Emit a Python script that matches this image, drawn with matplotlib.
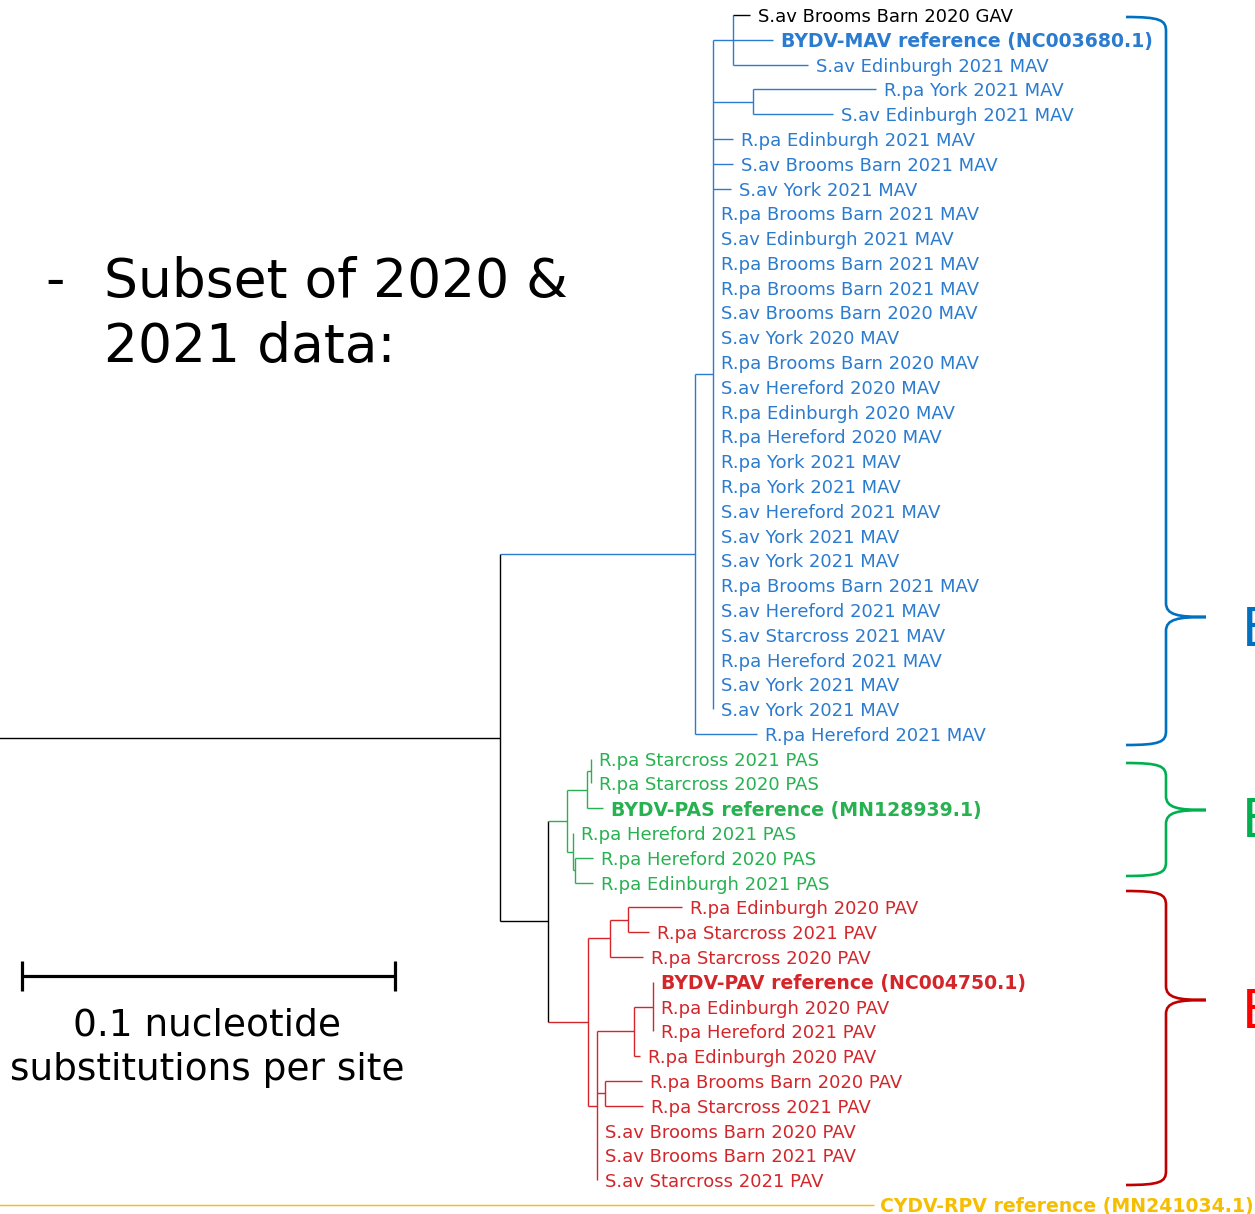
import matplotlib
matplotlib.use("Agg")
import matplotlib.pyplot as plt
from matplotlib.path import Path
from matplotlib.patches import PathPatch
from matplotlib.transforms import blended_transform_factory

# tip labels, top to bottom
leaf_names = [
    "S.av Brooms Barn 2020 GAV",
    "BYDV-MAV reference (NC003680.1)",
    "S.av Edinburgh 2021 MAV",
    "R.pa York 2021 MAV",
    "S.av Edinburgh 2021 MAV",
    "R.pa Edinburgh 2021 MAV",
    "S.av Brooms Barn 2021 MAV",
    "S.av York 2021 MAV",
    "R.pa Brooms Barn 2021 MAV",
    "S.av Edinburgh 2021 MAV",
    "R.pa Brooms Barn 2021 MAV",
    "R.pa Brooms Barn 2021 MAV",
    "S.av Brooms Barn 2020 MAV",
    "S.av York 2020 MAV",
    "R.pa Brooms Barn 2020 MAV",
    "S.av Hereford 2020 MAV",
    "R.pa Edinburgh 2020 MAV",
    "R.pa Hereford 2020 MAV",
    "R.pa York 2021 MAV",
    "R.pa York 2021 MAV",
    "S.av Hereford 2021 MAV",
    "S.av York 2021 MAV",
    "S.av York 2021 MAV",
    "R.pa Brooms Barn 2021 MAV",
    "S.av Hereford 2021 MAV",
    "S.av Starcross 2021 MAV",
    "R.pa Hereford 2021 MAV",
    "S.av York 2021 MAV",
    "S.av York 2021 MAV",
    "R.pa Hereford 2021 MAV",
    "R.pa Starcross 2021 PAS",
    "R.pa Starcross 2020 PAS",
    "BYDV-PAS reference (MN128939.1)",
    "R.pa Hereford 2021 PAS",
    "R.pa Hereford 2020 PAS",
    "R.pa Edinburgh 2021 PAS",
    "R.pa Edinburgh 2020 PAV",
    "R.pa Starcross 2021 PAV",
    "R.pa Starcross 2020 PAV",
    "BYDV-PAV reference (NC004750.1)",
    "R.pa Edinburgh 2020 PAV",
    "R.pa Hereford 2021 PAV",
    "R.pa Edinburgh 2020 PAV",
    "R.pa Brooms Barn 2020 PAV",
    "R.pa Starcross 2021 PAV",
    "S.av Brooms Barn 2020 PAV",
    "S.av Brooms Barn 2021 PAV",
    "S.av Starcross 2021 PAV",
    "CYDV-RPV reference (MN241034.1)",
]
leaf_groups = ["MAV"] * 30 + ["PAS"] * 6 + ["PAV"] * 12 + ["RPV"]
black_tips = [0]  # the GAV sample

# (branch length, index) for a tip, (branch length, [children]) for a node
tree = (0.0, [
    (0.1350, [
        (0.0523, [
            (0.0048, [
                (0.0054, [(0.0046, 0), (0.0107, 1), (0.0201, 2)]),
                (0.0107, [(0.0330, 3), (0.0214, 4)]),
                (0.0054, 5), (0.0054, 6), (0.0048, 7),
                (0.0, 8), (0.0, 9), (0.0, 10), (0.0, 11), (0.0, 12),
                (0.0, 13), (0.0, 14), (0.0, 15), (0.0, 16), (0.0, 17),
                (0.0, 18), (0.0, 19), (0.0, 20), (0.0, 21), (0.0, 22),
                (0.0, 23), (0.0, 24), (0.0, 25), (0.0, 26), (0.0, 27),
                (0.0, 28),
            ]),
            (0.0166, 29),
        ]),
        (0.0129, [
            (0.0051, [
                (0.0054, [(0.0011, [(0.0, 30), (0.0, 31)]), (0.0043, 32)]),
                (0.0016, [(0.0, 33), (0.0005, [(0.0048, 34), (0.0048, 35)])]),
            ]),
            (0.0107, [
                (0.0059, [(0.0048, [(0.0145, 36), (0.0056, 37)]), (0.0088, 38)]),
                (0.0024, [
                    (0.0099, [(0.0051, [(0.0, 39), (0.0, 40), (0.0, 41)]), (0.0016, 42)]),
                    (0.0021, [(0.0099, 43), (0.0102, 44)]),
                    (0.0, 45), (0.0, 46), (0.0, 47),
                ]),
            ]),
        ]),
    ]),
    (0.2353, 48),
])

scale_len = 0.1

colours = {"MAV": "#2b7bcf", "PAS": "#27b150", "PAV": "#d2262a", "RPV": "#f6be00"}

W, H = 1255, 1214
fig = plt.figure(figsize=(W / 100, H / 100), dpi=100)

ax = fig.add_axes([0, 0, 1, 1])
px = 0.1 / 373  # substitutions per pixel
ax.set_xlim(0.001, 0.001 + W * px)
row_px = 24.79
ax.set_ylim((H - 15) / row_px, -15 / row_px)
ax.axis("off")


def tip_colour(i):
    return "black" if i in black_tips else colours[leaf_groups[i]]


def draw(node, x0):
    length, kids = node
    x = x0 + length
    if isinstance(kids, int):
        return x, kids, {leaf_groups[kids]}, tip_colour(kids)
    parts = [draw(k, x) for k in kids]
    ys = [p[1] for p in parts]
    groups = set().union(*[p[2] for p in parts])
    col = colours[next(iter(groups))] if len(groups) == 1 else "black"
    ax.plot([x, x], [ys[0], ys[-1]], color=col, lw=1.0, solid_capstyle="butt")
    for (cx, cy, _, ccol) in parts:
        if cx > x:
            ax.plot([x, cx], [cy, cy], color=ccol, lw=1.0, solid_capstyle="butt")
    return x, (ys[0] + ys[-1]) / 2, groups, col


tips = {}


def collect(node, x0):
    length, kids = node
    x = x0 + length
    if isinstance(kids, int):
        tips[kids] = x
    else:
        for k in kids:
            collect(k, x)


draw(tree, 0.0)
collect(tree, 0.0)

for i, name in enumerate(leaf_names):
    bold = "reference" in name
    gap = 0.0015 if i == 48 else 0.0022
    ax.text(tips[i] + gap, i, name, color=tip_colour(i),
            fontsize=13.6 if bold else 13.0,
            fontweight="bold" if bold else "normal", va="center_baseline",
            ha="left")

# scale bar
sb_tr = blended_transform_factory(ax.transData, ax.transAxes)
sb_x0 = 0.0069
sb_y = 1 - 976 / H
ax.plot([sb_x0, sb_x0 + scale_len], [sb_y, sb_y], color="black", lw=2.3,
        transform=sb_tr, solid_capstyle="butt")
ax.plot([sb_x0, sb_x0 + scale_len], [sb_y, sb_y], ls="none", marker="|",
        ms=21, mew=2.3, color="black", transform=sb_tr)

# overlay in pixel space for text and braces
ov = fig.add_axes([0, 0, 1, 1])
ov.set_xlim(0, W)
ov.set_ylim(H, 0)
ov.axis("off")
ov.patch.set_alpha(0)

ov.text(207, 1021, "0.1 nucleotide", fontsize=27, ha="center", va="center_baseline")
ov.text(207, 1066, "substitutions per site", fontsize=27, ha="center", va="center_baseline")

ov.text(45, 276, "-", fontsize=38.5, ha="left", va="center_baseline")
ov.text(104, 276, "Subset of 2020 &", fontsize=38.5, ha="left", va="center_baseline")
ov.text(104, 341, "2021 data:", fontsize=38.5, ha="left", va="center_baseline")


def brace(top, bottom, tip, colour):
    x0, xs, xt = 1126, 1166, 1206
    verts = [
        (x0, top), (1160, top), (xs, top + 3), (xs, top + 14),
        (xs, tip - 14),
        (xs, tip - 2), (1178, tip), (xt, tip),
        (1178, tip), (xs, tip + 2), (xs, tip + 14),
        (xs, bottom - 14),
        (xs, bottom - 3), (1160, bottom), (x0, bottom),
    ]
    codes = [Path.MOVETO, Path.CURVE4, Path.CURVE4, Path.CURVE4,
             Path.LINETO,
             Path.CURVE4, Path.CURVE4, Path.CURVE4,
             Path.CURVE4, Path.CURVE4, Path.CURVE4,
             Path.LINETO,
             Path.CURVE4, Path.CURVE4, Path.CURVE4]
    ov.add_patch(PathPatch(Path(verts, codes), fill=False, ec=colour, lw=1.9))


brace(17, 745, 617, "#0070c0")
brace(763, 876, 810, "#00b050")
brace(891, 1185, 1000, "#c00000")

# clade names run off the right edge of the page
for y, label, col in [(625, "BYDV-MAV", "#0070c0"), (817, "BYDV-PAS", "#00b050"),
                      (1008, "BYDV-PAV", "#ff0000")]:
    ov.text(1242, y, label, fontsize=38, color=col, ha="left", va="center_baseline",
            family="Liberation Sans Narrow")

fig.savefig("out.png", dpi=100)
